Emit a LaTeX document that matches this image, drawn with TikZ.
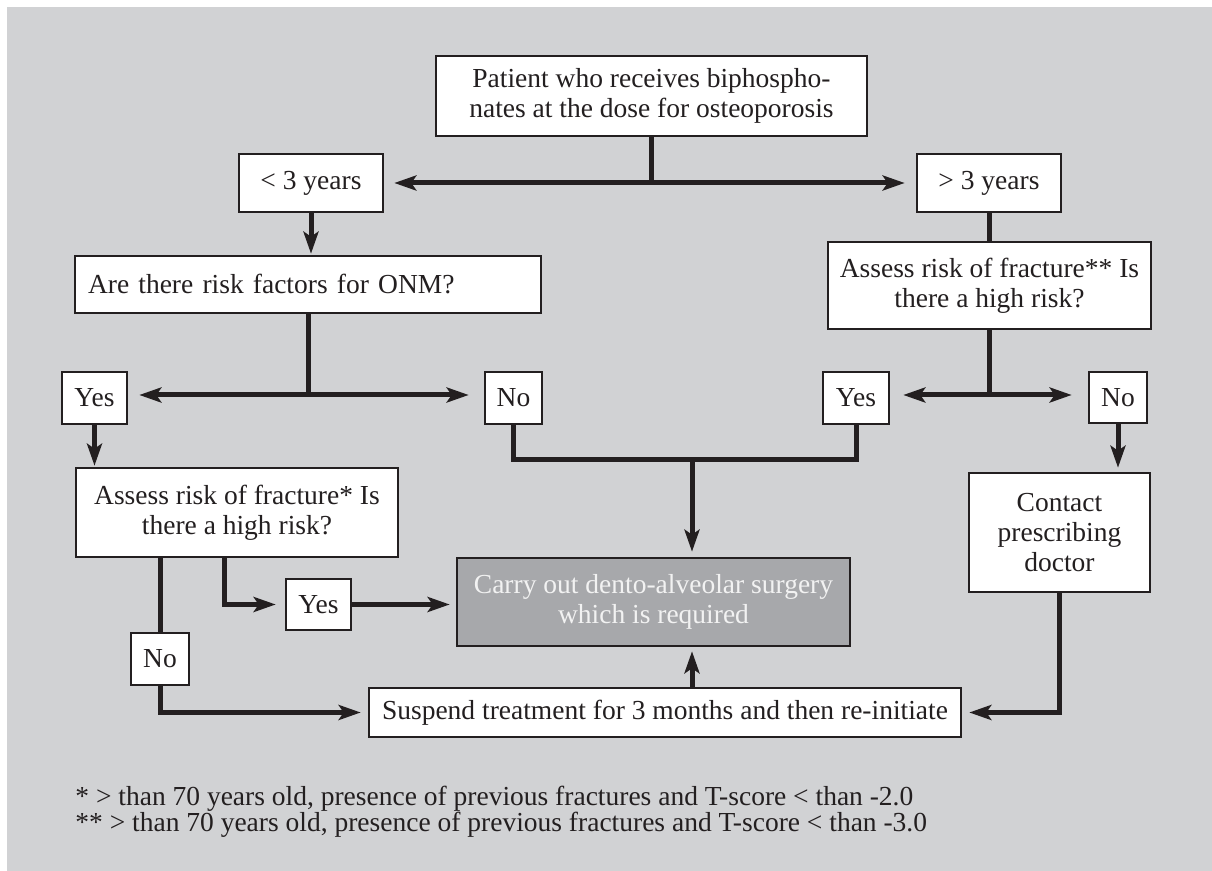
\documentclass[tikz,border=0pt]{standalone}
\usepackage{fontspec}
\setmainfont{Liberation Serif}
\usetikzlibrary{arrows.meta}
\definecolor{panel}{HTML}{D1D2D4}
\definecolor{darkbox}{HTML}{A7A8AB}
\definecolor{ink}{HTML}{231F20}
\definecolor{lighttext}{HTML}{F2F2F2}
\tikzset{
  box/.style={draw=ink, line width=1.3pt, fill=white, inner sep=0pt, align=center, text=ink,
    font=\fontsize{13.75}{15}\selectfont},
  conn/.style={draw=ink, line width=2.5pt},
  arr/.style={conn, -{Stealth[length=11pt,width=7.5pt,inset=2.5pt]}},
}
\begin{document}
\begin{tikzpicture}[x=0.5pt,y=-0.5pt]
\fill[white] (0,0) rectangle (1212,871);
\fill[panel] (7,7) rectangle (1212,871);
\useasboundingbox (0,0) rectangle (1212,871);

\node[box, minimum width=215.5pt, minimum height=40pt] (top) at (651.5,96)
  {Patient who receives biphospho-\\nates at the dose for osteoporosis};
\node[box, minimum width=72pt, minimum height=29pt] (lt3) at (311,183) {< 3 years};
\node[box, minimum width=72pt, minimum height=29pt] (gt3) at (989,183) {> 3 years};
\node[box, minimum width=233pt, minimum height=28.5pt, inner xsep=6.5pt, text width=220pt, align=left] (onm) at (308,284.5)
  {Are there risk factors for ONM?};
\node[box, minimum width=161.5pt, minimum height=43.5pt] (assess2) at (989.5,285.5)
  {Assess risk of fracture** Is\\there a high risk?};
\node[box, minimum width=32.5pt, minimum height=26pt] (yes1) at (94.5,398) {Yes};
\node[box, minimum width=28.5pt, minimum height=26pt] (no1) at (513.5,398) {No};
\node[box, minimum width=33pt, minimum height=26pt] (yes2) at (856,398) {Yes};
\node[box, minimum width=29pt, minimum height=25.5pt] (no2) at (1118,397.5) {No};
\node[box, minimum width=161pt, minimum height=44.5pt] (assess1) at (237,512.5)
  {Assess risk of fracture* Is\\there a high risk?};
\node[box, fill=darkbox, text=lighttext, minimum width=196.5pt, minimum height=44pt] (gray) at (653.5,602)
  {Carry out dento-alveolar surgery\\which is required};
\node[box, minimum width=32.5pt, minimum height=25.5pt] (yes3) at (318.5,604.5) {Yes};
\node[box, minimum width=29pt, minimum height=26pt] (no3) at (160,659) {No};
\node[box, minimum width=90.5pt, minimum height=59.5pt] (contact) at (1059.5,532.5)
  {Contact\\prescribing\\doctor};
\node[box, minimum width=296pt, minimum height=24.5pt] (suspend) at (665,712.5)
  {Suspend treatment for 3 months and then re-initiate};
\node[anchor=west, inner sep=0pt, align=left, text=ink, font=\fontsize{13.75}{13}\selectfont] (notes) at (75,812)
  {* > than 70 years old, presence of previous fractures and T-score < than -2.0\\
   ** > than 70 years old, presence of previous fractures and T-score < than -3.0};

\coordinate (j1) at (651,183);
\coordinate (j2) at (307,395);
\coordinate (j3) at (990,395);
\coordinate (j4) at (692,460);

\draw[conn] (top.south) -- (top.south |- j1);
\draw[arr, shorten >=5pt] (j1) -- (j1 -| lt3.east);
\draw[arr, shorten >=5.5pt] (j1) -- (j1 -| gt3.west);
\draw[arr, shorten >=0.5pt] (lt3.south) -- (lt3.south |- onm.north);
\draw[conn] (gt3.south) -- (gt3.south |- assess2.north);

\draw[conn] (onm.south) -- (onm.south |- j2);
\draw[arr, shorten >=5.5pt] (j2) -- (j2 -| yes1.east);
\draw[arr, shorten >=7.5pt] (j2) -- (j2 -| no1.west);

\draw[conn] (assess2.south) -- (assess2.south |- j3);
\draw[arr, shorten >=6.5pt] (j3) -- (j3 -| yes2.east);
\draw[arr, shorten >=8pt] (j3) -- (j3 -| no2.west);

\draw[arr, shorten >=0.5pt] (yes1.south) -- (yes1.south |- assess1.north);
\draw[conn] (no1.south) |- (j4) -| (yes2.south);
\draw[arr, shorten >=2.5pt] (j4) -- (j4 |- gray.north);
\draw[arr, shorten >=2pt] (no2.south) -- (no2.south |- contact.north);

\draw[conn] (assess1.south -| no3.north) -- (no3.north);
\draw[arr, shorten >=4.5pt] ([xshift=-6.5pt]assess1.south) |- (yes3.west);
\draw[arr, shorten >=3pt] (yes3.east) -- (yes3.east -| gray.west);
\draw[arr, shorten >=3.5pt] (no3.south) |- (suspend.west);
\draw[arr, shorten >=2pt] (suspend.north -| j4) -- (gray.south -| j4);
\draw[arr, shorten >=3.5pt] (contact.south) |- (suspend.east);
\end{tikzpicture}
\end{document}
